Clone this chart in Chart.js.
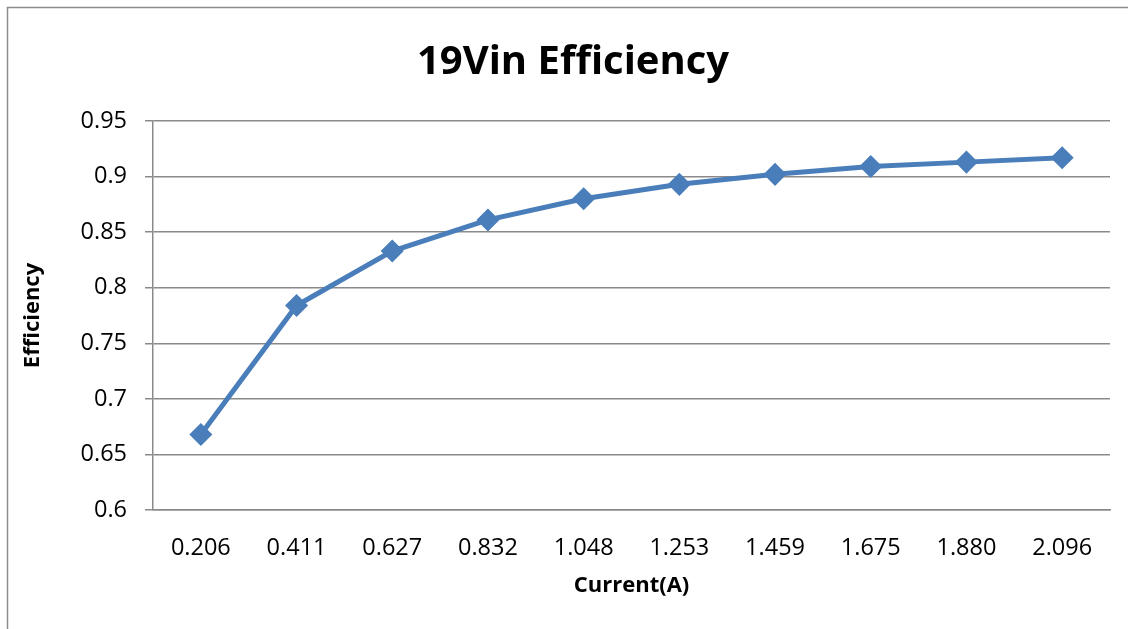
<!DOCTYPE html>
<html>
<head>
<meta charset="utf-8">
<script src="https://cdn.jsdelivr.net/npm/chart.js@4.4.0/dist/chart.umd.min.js"></script>
<style>
  html, body { margin: 0; padding: 0; background: #fff; overflow: hidden; }
  #wrap { width: 1128px; height: 629px; }
</style>
</head>
<body>
<div id="wrap"><canvas id="effChart" width="1128" height="629"></canvas></div>
<script>
const currentLabels = ['0.206', '0.411', '0.627', '0.832', '1.048', '1.253', '1.459', '1.675', '1.880', '2.096'];
const efficiency = [0.668, 0.784, 0.833, 0.861, 0.880, 0.893, 0.902, 0.909, 0.913, 0.917];
const yMin = 0.6;
const yMax = 0.95;
const yStep = 0.05;

const gridGray = '#8a8a8a';
const lineBlue = '#4a7ebb';

// white background plus the outer chart frame
const frame = {
    id: 'frame',
    beforeDraw(chart) {
        const c = chart.ctx;
        c.save();
        c.fillStyle = '#fff';
        c.fillRect(0, 0, chart.width, chart.height);
        c.strokeStyle = '#8c8c8c';
        c.lineWidth = 1.5;
        c.strokeRect(7.5, 7.5, chart.width + 20, chart.height + 20);
        c.restore();
    }
};

const ctx = document.getElementById('effChart').getContext('2d');
window.effChart = new Chart(ctx, {
    type: 'line',
    data: {
        labels: currentLabels,
        datasets: [{
            label: 'Efficiency',
            data: efficiency,
            borderColor: lineBlue,
            backgroundColor: lineBlue,
            borderWidth: 5,
            tension: 0,
            pointStyle: 'rectRot',
            pointRadius: 8,
            pointHoverRadius: 8,
            pointBackgroundColor: lineBlue,
            pointBorderColor: lineBlue,
            fill: false
        }]
    },
    options: {
        responsive: false,
        animation: false,
        layout: {
            padding: { left: 36, right: 18, top: 0, bottom: 20 }
        },
        scales: {
            x: {
                offset: true,
                grid: { display: false },
                border: { display: true, color: gridGray, width: 1.5 },
                ticks: {
                    color: '#000',
                    padding: 16,
                    maxRotation: 0,
                    font: { family: 'Open Sans', size: 23.5 }
                },
                title: {
                    display: true,
                    text: 'Current(A)',
                    color: '#000',
                    padding: { top: 0, bottom: 10 },
                    font: { family: 'Open Sans', size: 22, weight: 'bold' }
                },
                afterFit(scale) { scale.height = 99; }
            },
            y: {
                min: yMin,
                max: yMax,
                grid: {
                    color: gridGray,
                    lineWidth: 1.5,
                    tickLength: 8
                },
                border: { display: true, color: gridGray, width: 1.5 },
                ticks: {
                    stepSize: yStep,
                    color: '#000',
                    padding: 18,
                    font: { family: 'Open Sans', size: 23.5 },
                    callback: v => String(+v.toFixed(2))
                },
                title: {
                    display: true,
                    text: 'Efficiency',
                    color: '#000',
                    padding: { top: -16, bottom: 0 },
                    font: { family: 'Open Sans', size: 22, weight: 'bold' }
                },
                afterFit(scale) { scale.width = 117; }
            }
        },
        plugins: {
            legend: { display: false },
            tooltip: { enabled: false },
            title: {
                display: true,
                text: '19Vin Efficiency',
                color: '#000',
                padding: { top: 39, bottom: 34 },
                font: { family: 'Open Sans', size: 40, weight: 'bold' }
            }
        }
    },
    plugins: [frame]
});
</script>
</body>
</html>
